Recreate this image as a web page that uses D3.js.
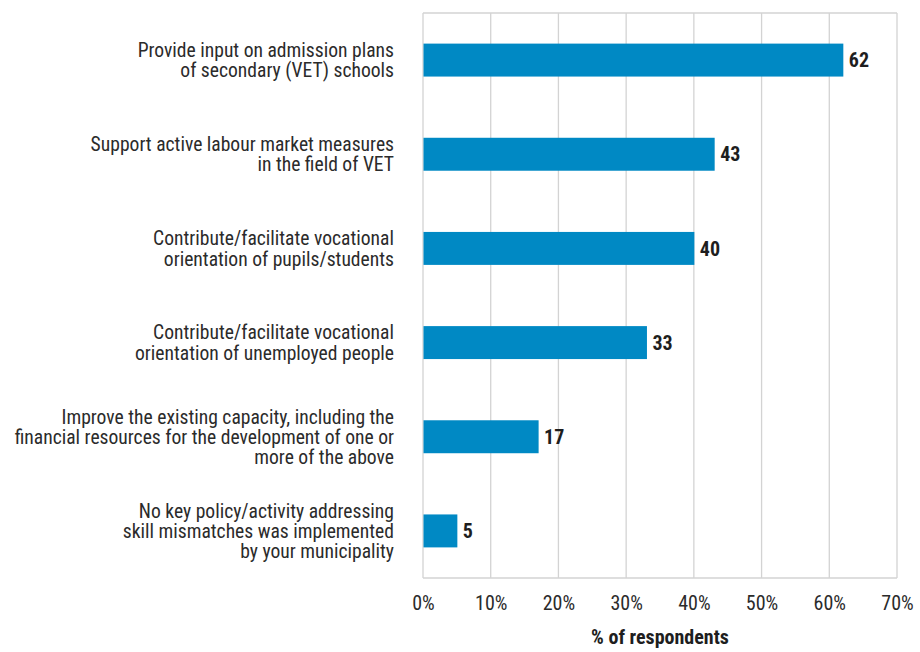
<!DOCTYPE html>
<html>
<head>
<meta charset="utf-8">
<script src="https://cdn.jsdelivr.net/npm/d3@7/dist/d3.min.js"></script>
<style>
  html, body { margin: 0; padding: 0; background: #fff; }
  svg text { font-family: "Liberation Sans Narrow", "Roboto Condensed", Roboto, "Liberation Sans", sans-serif; }
</style>
</head>
<body>
<svg id="chart" width="920" height="652"></svg>
<script>
// Survey categories (top to bottom), each label split into its display lines
const categories = [
  ["Provide input on admission plans", "of secondary (VET) schools"],
  ["Support active labour market measures", "in the field of VET"],
  ["Contribute/facilitate vocational", "orientation of pupils/students"],
  ["Contribute/facilitate vocational", "orientation of unemployed people"],
  ["Improve the existing capacity, including the", "financial resources for the development of one or", "more of the above"],
  ["No key policy/activity addressing", "skill mismatches was implemented", "by your municipality"]
];
// Share of respondents, in percent
const values = [62, 43, 40, 33, 17, 5];
// X axis ticks
const xTicks = [0, 10, 20, 30, 40, 50, 60, 70];
const xTitle = "% of respondents";

const svg = d3.select("#chart");
const margin = { left: 423, right: 23, top: 13, bottom: 74 };
const W = 920, H = 652;
const plotW = W - margin.left - margin.right;
const plotH = H - margin.top - margin.bottom;
const textColor = "#2b2b2b";

const g = svg.append("g").attr("transform", `translate(${margin.left},${margin.top})`);

const x = d3.scaleLinear().domain([0, 70]).range([0, plotW]);
const y = d3.scaleBand().domain(d3.range(values.length)).range([0, plotH]).paddingInner(0.65).paddingOuter(0.325);

// vertical gridlines
g.selectAll("line.grid").data(xTicks).join("line")
  .attr("class", "grid")
  .attr("x1", d => x(d)).attr("x2", d => x(d))
  .attr("y1", 0).attr("y2", plotH)
  .attr("stroke", "#d3d3d3").attr("stroke-width", 1.3);

// plot frame (top and bottom edges)
g.append("line").attr("x1", 0).attr("x2", plotW).attr("y1", 0).attr("y2", 0)
  .attr("stroke", "#d3d3d3").attr("stroke-width", 1.3);
g.append("line").attr("x1", 0).attr("x2", plotW).attr("y1", plotH).attr("y2", plotH)
  .attr("stroke", "#d3d3d3").attr("stroke-width", 1.3);

// bars
g.selectAll("rect.bar").data(values).join("rect")
  .attr("class", "bar")
  .attr("x", x(0) + 0.5)
  .attr("y", (d, i) => y(i))
  .attr("width", d => x(d) - x(0))
  .attr("height", y.bandwidth())
  .attr("fill", "#0089c4");

// value labels
g.selectAll("text.val").data(values).join("text")
  .attr("class", "val")
  .attr("x", d => x(d) + 6)
  .attr("y", (d, i) => y(i) + y.bandwidth() / 2)
  .attr("dy", "0.36em")
  .attr("font-size", 20)
  .attr("font-weight", "bold")
  .attr("fill", "#1e1e1e")
  .text(d => d);

// category labels
const lineH = 20.3;
categories.forEach((lines, i) => {
  const cy = y(i) + y.bandwidth() / 2;
  const t = g.append("text")
    .attr("text-anchor", "end")
    .attr("font-size", 19.6)
    .attr("fill", textColor);
  lines.forEach((ln, k) => {
    t.append("tspan")
      .attr("x", -29)
      .attr("y", cy + (k - (lines.length - 1) / 2) * lineH)
      .attr("dy", "0.36em")
      .text(ln);
  });
});

// x axis tick labels
const xAxis = d3.axisBottom(x).tickValues(xTicks).tickSize(0).tickPadding(18).tickFormat(d => d + "%");
const ax = g.append("g").attr("transform", `translate(0,${plotH})`).call(xAxis);
ax.select(".domain").remove();
ax.selectAll("text").attr("font-size", 20).attr("fill", textColor)
  .style("font-family", '"Liberation Sans Narrow", "Roboto Condensed", Roboto, sans-serif');

// axis title
g.append("text")
  .attr("x", plotW / 2)
  .attr("y", plotH + 66)
  .attr("text-anchor", "middle")
  .attr("font-size", 20)
  .attr("font-weight", "bold")
  .attr("fill", "#1e1e1e")
  .text(xTitle);
</script>
</body>
</html>
